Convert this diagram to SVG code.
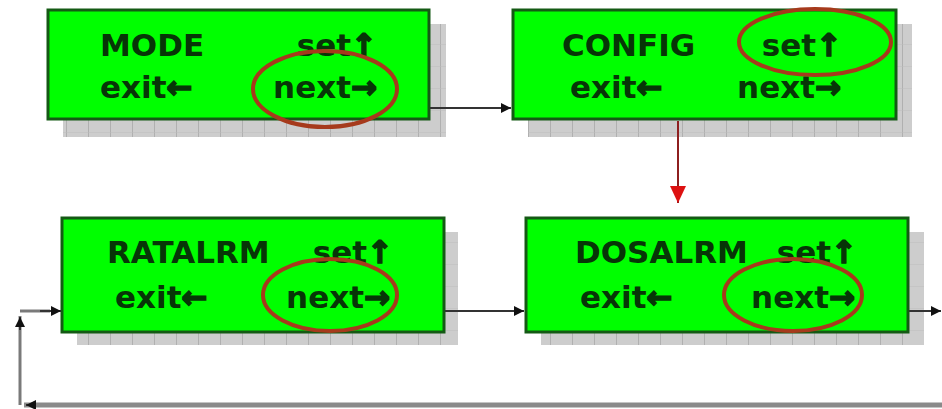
<svg xmlns="http://www.w3.org/2000/svg" width="942" height="409" viewBox="0 0 942 409">
<defs>
<style>
.box{fill:#00ff00;stroke:#145a14;stroke-width:3}
.shadow{fill:url(#ruler)}
.t{font-family:"DejaVu Sans","Verdana",sans-serif;font-weight:bold;font-size:31px;fill:#073507}
.e{text-anchor:end}
.ar{stroke:#073507;stroke-width:1.6}
.ring{fill:none;stroke:#a63a1c;stroke-width:4}
.conn{fill:none;stroke:#333;stroke-width:2}
.loop{fill:none;stroke:#7a7a7a;stroke-width:3}
.red{fill:none;stroke:#8e1f1f;stroke-width:2}
</style>
<pattern id="ruler" patternUnits="userSpaceOnUse" width="22" height="22">
<rect width="22" height="22" fill="#cdcdcd"/>
<line x1="0" y1="0" x2="0" y2="22" stroke="#b0b0b0" stroke-width="2"/>
<line x1="0" y1="0" x2="22" y2="0" stroke="#bdbdbd" stroke-width="1"/>
</pattern>
<marker id="ab" markerUnits="userSpaceOnUse" markerWidth="12" markerHeight="12" refX="10" refY="6" orient="auto">
<path d="M0,1 L10,6 L0,11 Z" fill="#111"/>
</marker>
<marker id="ar" markerUnits="userSpaceOnUse" markerWidth="18" markerHeight="18" refX="17" refY="9" orient="auto">
<path d="M0,1 L17,9 L0,17 Z" fill="#dd1111"/>
</marker>
</defs>
<rect width="942" height="409" fill="#ffffff"/>

<g id="node-mode">
<rect class="shadow" x="63" y="24" width="383" height="113"/>
<rect class="box" x="48" y="10" width="381" height="109"/>
<text class="t" x="100" y="56">MODE</text>
<text class="t e" x="377" y="56">set<tspan class="ar">↑</tspan></text>
<text class="t" x="100" y="98">exit<tspan class="ar">←</tspan></text>
<text class="t e" x="377" y="98">next<tspan class="ar">→</tspan></text>
<ellipse class="ring" cx="325" cy="89" rx="72" ry="38"/>
</g>

<g id="node-config">
<rect class="shadow" x="528" y="24" width="384" height="113"/>
<rect class="box" x="513" y="10" width="383" height="109"/>
<text class="t" x="562" y="56">CONFIG</text>
<text class="t e" x="842" y="56">set<tspan class="ar">↑</tspan></text>
<text class="t" x="570" y="98">exit<tspan class="ar">←</tspan></text>
<text class="t e" x="841" y="98">next<tspan class="ar">→</tspan></text>
<ellipse class="ring" cx="815" cy="42" rx="76" ry="33"/>
</g>

<g id="node-ratalrm">
<rect class="shadow" x="77" y="232" width="381" height="113"/>
<rect class="box" x="62" y="218" width="382" height="114"/>
<text class="t" x="107" y="263">RATALRM</text>
<text class="t e" x="393" y="263">set<tspan class="ar">↑</tspan></text>
<text class="t" x="115" y="308">exit<tspan class="ar">←</tspan></text>
<text class="t e" x="390" y="308">next<tspan class="ar">→</tspan></text>
<ellipse class="ring" cx="330" cy="295" rx="67" ry="36"/>
</g>

<g id="node-dosalrm">
<rect class="shadow" x="541" y="232" width="383" height="113"/>
<rect class="box" x="526" y="218" width="382" height="114"/>
<text class="t" x="575" y="263">DOSALRM</text>
<text class="t e" x="857" y="263">set<tspan class="ar">↑</tspan></text>
<text class="t" x="580" y="308">exit<tspan class="ar">←</tspan></text>
<text class="t e" x="855" y="308">next<tspan class="ar">→</tspan></text>
<ellipse class="ring" cx="793" cy="295" rx="69" ry="36"/>
</g>

<g id="connectors">
<path class="conn" d="M430,108 H511" marker-end="url(#ab)"/>
<path class="red" d="M678,121 V203" marker-end="url(#ar)"/>
<path class="conn" d="M445,311 H524" marker-end="url(#ab)"/>
<path class="conn" d="M909,311 H941" marker-end="url(#ab)"/>
<path d="M942,405 H24" fill="none" stroke="#8a8a8a" stroke-width="5"/>
<path class="conn" d="M34,405 H26" marker-end="url(#ab)"/>
<path class="loop" d="M20,405 V316"/>
<path class="conn" d="M20,330 V317" marker-end="url(#ab)"/>
<path class="loop" d="M20,311 H50"/>
<path class="conn" d="M40,311 H61" marker-end="url(#ab)"/>
</g>
</svg>
